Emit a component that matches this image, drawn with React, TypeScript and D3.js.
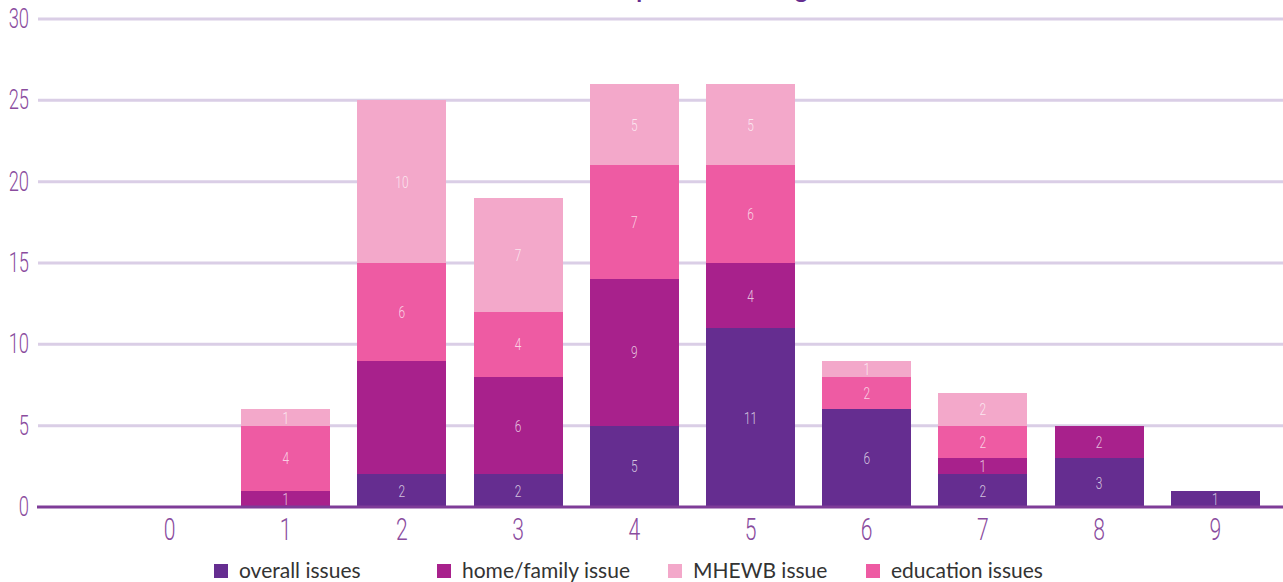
import React from "react";
import * as d3 from "d3";

const categories = ["0", "1", "2", "3", "4", "5", "6", "7", "8", "9"];
const overallIssues = [0, 0, 2, 2, 5, 11, 6, 2, 3, 1];
const homeFamilyIssue = [0, 1, 7, 6, 9, 4, 0, 1, 2, 0];
const educationIssues = [0, 4, 6, 4, 7, 6, 2, 2, 0, 0];
const mhewbIssue = [0, 1, 10, 7, 5, 5, 1, 2, 0, 0];
const yTicks = [0, 5, 10, 15, 20, 25, 30];
const hiddenLabels = [{ cat: "2", key: "home" }];
const titleText = "Number of issues reported in each grade";

const seriesKeys = ["overall", "home", "education", "mhewb"];
const seriesColors: Record<string, string> = {
  overall: "#652d90",
  home: "#a8218c",
  education: "#ee5ba3",
  mhewb: "#f3a8ca",
};
const legendItems = [
  { key: "overall", label: "overall issues" },
  { key: "home", label: "home/family issue" },
  { key: "mhewb", label: "MHEWB issue" },
  { key: "education", label: "education issues" },
];
const legendX = [214, 437, 668, 866];

const W = 1283;
const H = 582;

export default function App() {
  const rows = categories.map((c, i) => ({
    cat: c,
    overall: overallIssues[i],
    home: homeFamilyIssue[i],
    education: educationIssues[i],
    mhewb: mhewbIssue[i],
  }));
  const stack = d3.stack<any>().keys(seriesKeys);
  const layers = stack(rows);

  const x = d3
    .scaleBand<string>()
    .domain(categories)
    .range([111.4, 1273.4])
    .paddingInner(0.234)
    .paddingOuter(0.117);
  const y = d3.scaleLinear().domain([0, 30]).range([507, 19]);

  const condensed = "Roboto, 'Liberation Sans', sans-serif";

  return (
    <svg
      width={W}
      height={H}
      style={{ position: "absolute", left: 0, top: 0, background: "#fff" }}
    >
      <text
        x={640}
        y={-2}
        textAnchor="middle"
        fontFamily="Lato, 'Open Sans', sans-serif"
        fontWeight={700}
        fontSize={24}
        fill="#652d90"
      >
        {titleText}
      </text>
      {yTicks.filter((t) => t > 0).map((t) => (
        <line
          key={"g" + t}
          x1={38}
          x2={W}
          y1={y(t)}
          y2={y(t)}
          stroke="#dacee6"
          strokeWidth={3}
        />
      ))}
      {yTicks.map((t) => (
        <text
          key={"yt" + t}
          transform={`translate(29,${y(t) + 9}) scale(0.68,1)`}
          textAnchor="end"
          fontFamily={condensed}
          fontWeight={300}
          fontSize={27}
          fill="#8a4c9e"
        >
          {t}
        </text>
      ))}
      {layers.map((layer) =>
        layer.map((d: any, i: number) => {
          const v = d[1] - d[0];
          if (v <= 0) return null;
          return (
            <rect
              key={layer.key + i}
              x={x(categories[i])}
              y={Math.round(y(d[1]))}
              width={x.bandwidth()}
              height={Math.round(y(d[0])) - Math.round(y(d[1]))}
              fill={seriesColors[layer.key]}
              shapeRendering="crispEdges"
            />
          );
        })
      )}
      <line x1={37} x2={W} y1={507} y2={507} stroke="#7e3c98" strokeWidth={3} />
      {layers.map((layer) =>
        layer.map((d: any, i: number) => {
          const v = d[1] - d[0];
          if (v <= 0) return null;
          if (hiddenLabels.some((h) => h.cat === categories[i] && h.key === layer.key)) return null;
          const cx = (x(categories[i]) as number) + x.bandwidth() / 2;
          const cy = (y(d[0]) + y(d[1])) / 2 + 6;
          return (
            <text
              key={"l" + layer.key + i}
              transform={`translate(${cx},${cy}) scale(0.7,1)`}
              textAnchor="middle"
              fontFamily={condensed}
              fontWeight={300}
              fontSize={17}
              fill="#ffffff"
              fillOpacity={0.72}
            >
              {v}
            </text>
          );
        })
      )}
      {categories.map((c) => (
        <text
          key={"xt" + c}
          transform={`translate(${(x(c) as number) + x.bandwidth() / 2},540) scale(0.66,1)`}
          textAnchor="middle"
          fontFamily={condensed}
          fontWeight={300}
          fontSize={32}
          fill="#8a4c9e"
        >
          {c}
        </text>
      ))}
      {legendItems.map((it, i) => (
        <g key={it.key} transform={`translate(${legendX[i]},564)`}>
          <rect x={0} y={0} width={14} height={14} fill={seriesColors[it.key]} />
          <text
            x={25}
            y={14}
            fontFamily="Lato, 'Open Sans', sans-serif"
            fontSize={21}
            fill="#333"
          >
            {it.label}
          </text>
        </g>
      ))}
    </svg>
  );
}
